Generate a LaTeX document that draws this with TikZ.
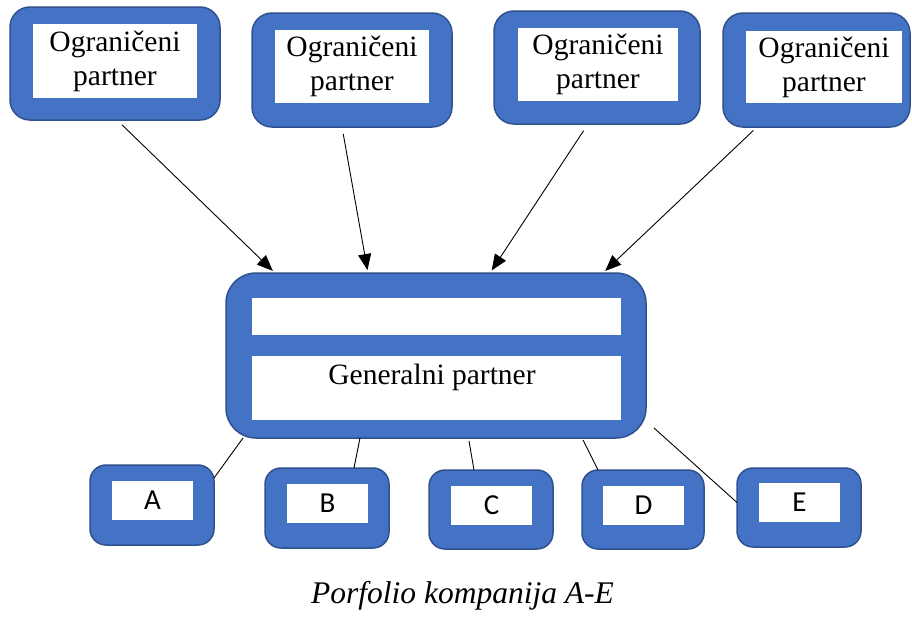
\documentclass[tikz,border=0pt]{standalone}
\usepackage{fontspec}
\setmainfont{Liberation Serif}
\newfontfamily\letterfont{Carlito}
\usepackage{tikz}
\usetikzlibrary{arrows.meta}
\definecolor{boxblue}{HTML}{4472C4}
\definecolor{boxedge}{HTML}{2F528F}

\begin{document}
\begin{tikzpicture}[x=1pt,y=-1pt,
	outerbox/.style={draw=boxedge,fill=boxblue,line width=1.5pt,outer sep=0pt,inner sep=0pt},
	innerbox/.style={fill=white,inner sep=0pt,outer sep=0pt,align=center,font=\fontsize{29.5}{34}\selectfont},
	letterbox/.style={innerbox,font=\letterfont\fontsize{29}{30}\selectfont}]
				  \useasboundingbox (0,0) rectangle (912,616);
				  % limited partners
				  \node[outerbox,rounded corners=20pt,minimum width=210pt,minimum height=113pt] (lp1) at (115,63.5) {};
				  \node[outerbox,rounded corners=20pt,minimum width=200pt,minimum height=114pt] (lp2) at (352,70) {};
				  \node[outerbox,rounded corners=20pt,minimum width=206pt,minimum height=113pt] (lp3) at (597,67.5) {};
				  \node[outerbox,rounded corners=20pt,minimum width=187pt,minimum height=114pt] (lp4) at (816.5,70) {};
				  \node[innerbox,minimum width=164pt,minimum height=74pt] (lp1t) at (115,61) {Ograničeni\\partner};
				  \node[innerbox,minimum width=154pt,minimum height=73pt] (lp2t) at (352,66.5) {Ograničeni\\partner};
				  \node[innerbox,minimum width=160pt,minimum height=73pt] (lp3t) at (598,64.5) {Ograničeni\\partner};
				  \node[innerbox,minimum width=156pt,minimum height=72pt] (lp4t) at (824,67) {Ograničeni\\partner};
				  % general partner
				  \node[outerbox,rounded corners=30pt,minimum width=420pt,minimum height=165pt] (gp) at (436,355.5) {};
				  \node[innerbox,minimum width=369pt,minimum height=37pt] (gptop) at (436.5,316.5) {};
				  \node[innerbox,minimum width=369pt,minimum height=64pt] (gpbot) at (436.5,388) {};
				  \node[innerbox,fill=none] (gptext) at (432,377) {Generalni partner};
				  % portfolio companies
				  \node[outerbox,rounded corners=16pt,minimum width=124pt,minimum height=80pt] (A) at (152,505) {};
				  \node[outerbox,rounded corners=16pt,minimum width=124pt,minimum height=80pt] (B) at (327,508) {};
				  \node[outerbox,rounded corners=16pt,minimum width=124pt,minimum height=79pt] (C) at (491,509.5) {};
				  \node[outerbox,rounded corners=16pt,minimum width=122pt,minimum height=79pt] (D) at (643,509.5) {};
				  \node[outerbox,rounded corners=16pt,minimum width=124pt,minimum height=79pt] (E) at (799,507.5) {};
				  \node[letterbox,minimum width=81pt,minimum height=39pt] (At) at (152.5,500.5) {A};
				  \node[letterbox,minimum width=81pt,minimum height=39pt] (Bt) at (327.5,503.5) {B};
				  \node[letterbox,minimum width=81pt,minimum height=39pt] (Ct) at (491.5,505.5) {C};
				  \node[letterbox,minimum width=81pt,minimum height=39pt] (Dt) at (643.5,505.5) {D};
				  \node[letterbox,minimum width=81pt,minimum height=39pt] (Et) at (799.5,502.5) {E};
				  \node[font=\itshape\fontsize{31.5}{34}\selectfont,anchor=base] (cap) at (462.5,603) {Porfolio kompanija A-E};

				\tikzset{arrowline/.style={-{Triangle[length=16pt,width=13pt]},black,line width=0.9pt,shorten <=7pt,shorten >=3pt}}
				\tikzset{plainline/.style={-,black,line width=0.9pt}}
				\draw[arrowline] ([xshift=2pt]lp1.south) -- ([xshift=49pt]gp.north west);
				\draw[arrowline] ([xshift=-10pt]lp2.south) -- ([xshift=142pt]gp.north west);
				\draw[arrowline,shorten <=8pt] ([xshift=-9pt]lp3.south) -- ([xshift=264pt]gp.north west);
				\draw[arrowline,shorten <=5pt] ([xshift=34pt]lp4.south west) -- ([xshift=377pt]gp.north west);
				\path ([xshift=17pt]gp.south west)   edge [plainline]    ([yshift=27pt]A.east)
					  ([xshift=134pt]gp.south west)  edge [plainline]    ([xshift=27pt]B.north)
					  ([xshift=243pt,yshift=-3pt]gp.south west)  edge [plainline]    ([xshift=-17pt]C.north)
					  ([xshift=357pt,yshift=-2pt]gp.south west)  edge [plainline]    ([xshift=-45pt]D.north)
					  ([xshift=8pt,yshift=10pt]gp.south east)    edge [plainline]    ([yshift=5pt]E.west);
			\end{tikzpicture}
\end{document}
